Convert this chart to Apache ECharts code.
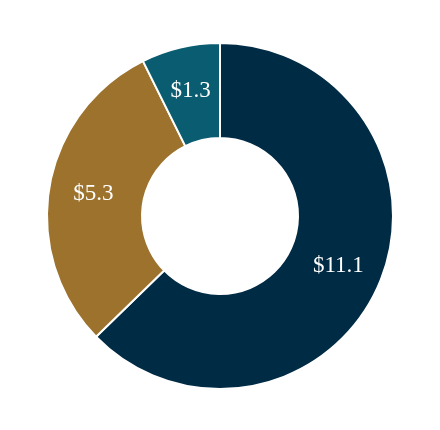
<!DOCTYPE html>
<html><head><meta charset="utf-8">
<script src="https://cdn.jsdelivr.net/npm/echarts@6/dist/echarts.min.js"></script>
<style>html,body{margin:0;padding:0;background:#fff}#c{width:440px;height:430px}</style>
</head><body><div id="c"></div>
<script>
const categories = ['A', 'B', 'C'];
const values = [11.1, 5.3, 1.3];
const labels = ['$11.1', '$5.3', '$1.3'];
const colors = ['#002b45', '#9c722d', '#0a5c70'];
const chart = echarts.init(document.getElementById('c'));
chart.setOption({
  animation: false,
  series: [{
    type: 'pie',
    center: [220, 216],
    radius: [78, 173],
    startAngle: 90,
    clockwise: true,
    data: categories.map((c, i) => ({name: c, value: values[i], itemStyle: {color: colors[i]}})),
    itemStyle: {borderColor: '#fff', borderWidth: 2},
    label: {
      show: true, position: 'inside',
      formatter: p => labels[p.dataIndex],
      color: '#fff', fontFamily: '"Liberation Serif", "Times New Roman", serif', fontSize: 23
    },
    labelLine: {show: false}
  }]
});
</script></body></html>
